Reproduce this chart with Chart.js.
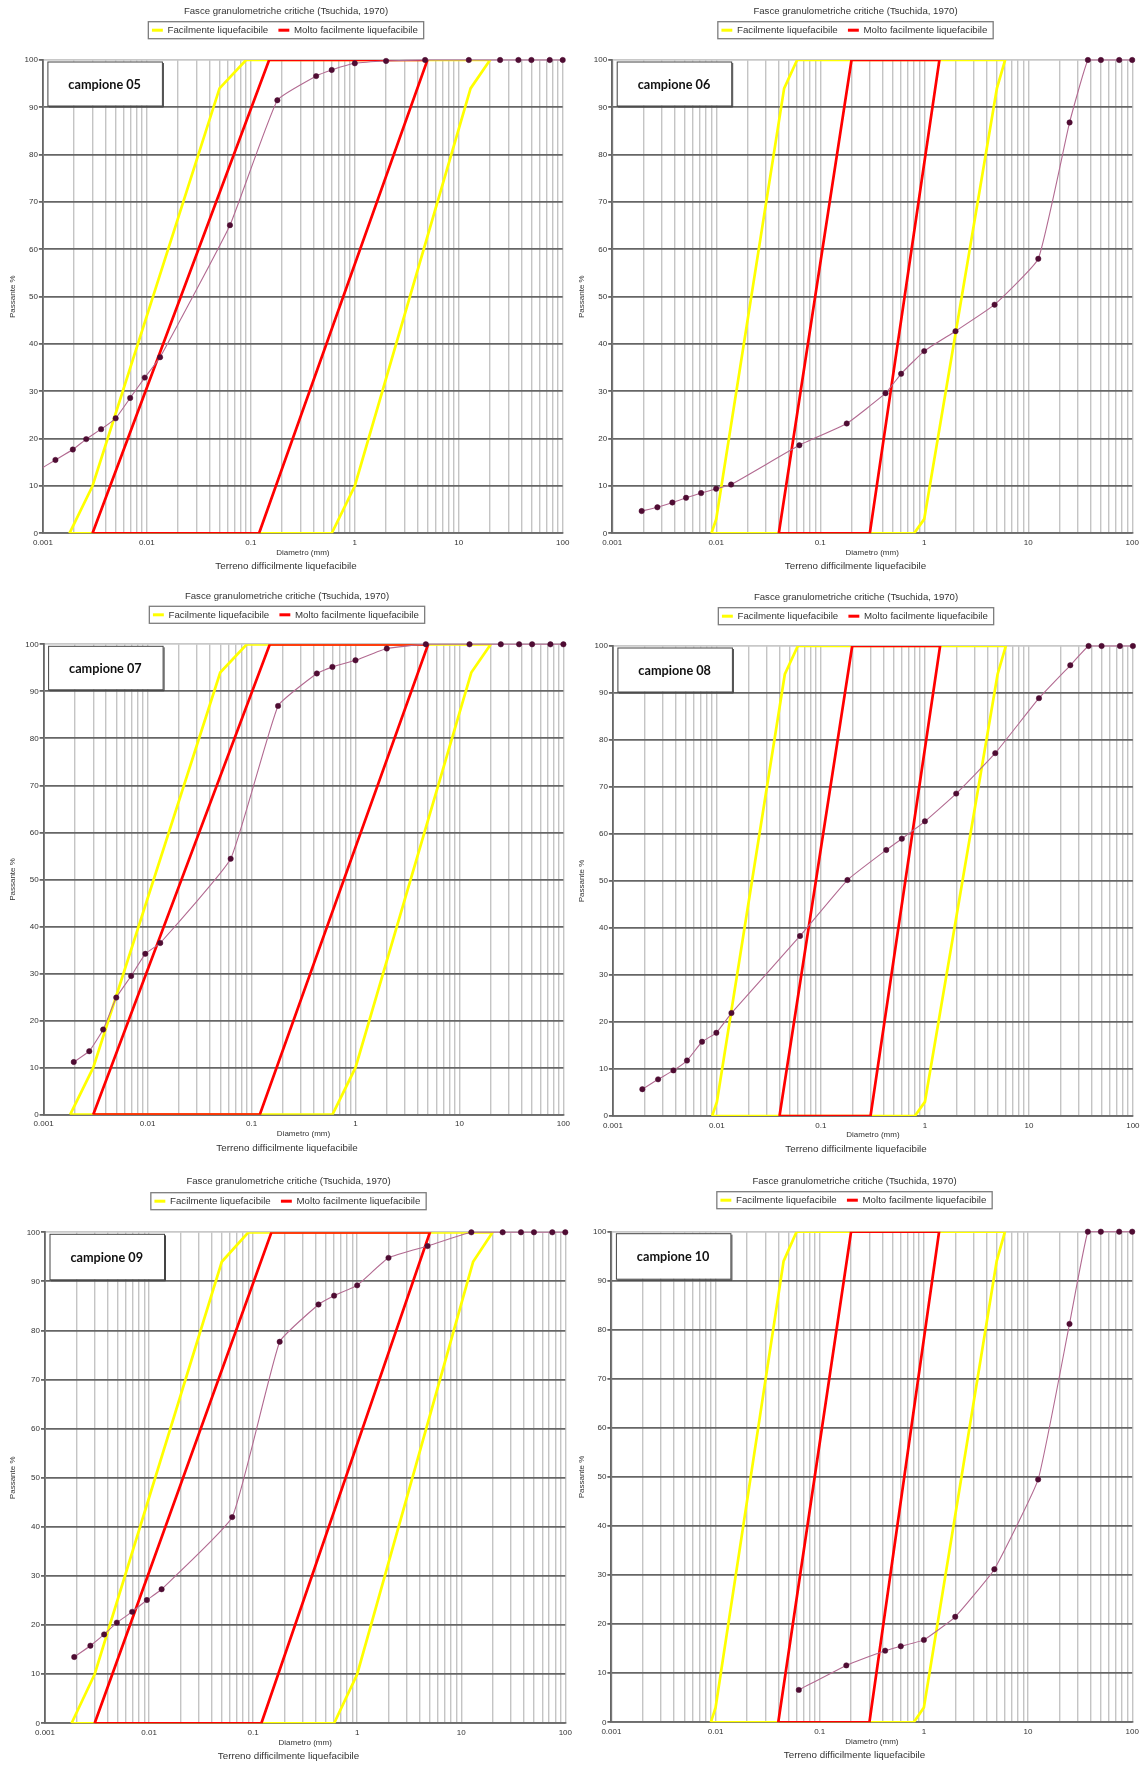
<!DOCTYPE html>
<html>
<head>
<meta charset="utf-8">
<title>Fasce granulometriche critiche</title>
<script src="https://cdn.jsdelivr.net/npm/chart.js@4.4.1/dist/chart.umd.min.js"></script>
<style>
  html, body { margin: 0; padding: 0; background: #fff; }
  body { width: 1145px; height: 1767px; position: relative; overflow: hidden; }
  canvas { position: absolute; }
</style>
</head>
<body>
<canvas id="c05"></canvas>
<canvas id="c06"></canvas>
<canvas id="c07"></canvas>
<canvas id="c08"></canvas>
<canvas id="c09"></canvas>
<canvas id="c10"></canvas>
<script>
const FONT = '"Liberation Sans", Arial, sans-serif';
Chart.defaults.font.family = FONT;
Chart.defaults.color = '#333';

// x axis: grain diameter in mm, labelled decades
const xTickValues = [0.001, 0.01, 0.1, 1, 10, 100];
const xTickLabels = ['0.001', '0.01', '0.1', '1', '10', '100'];
const xMantissas = [1, 2, 3, 4, 5, 6, 7, 8, 9];

const HEADING = 'Fasce granulometriche critiche (Tsuchida, 1970)';
const CAPTION = 'Terreno difficilmente liquefacibile';
const LABEL_EASY = 'Facilmente liquefacibile';
const LABEL_VERY_EASY = 'Molto facilmente liquefacibile';

// Tsuchida bands, graded soils (left column)
const gradedEasyDiam = [0.0018, 0.003, 0.05, 0.09, 20, 13, 1, 0.6, 0.0018];
const gradedEasyPass = [0, 10, 94, 100, 100, 94, 10, 0, 0];
const gradedVeryEasyDiam = [0.003, 0.15, 5, 0.12, 0.003];
const gradedVeryEasyPass = [0, 100, 100, 0, 0];

// Tsuchida bands, uniform soils (right column)
const uniformEasyDiam = [0.009, 0.01, 0.045, 0.06, 6, 5, 1, 0.8, 0.009];
const uniformEasyPass = [0, 3, 94, 100, 100, 94, 3, 0, 0];
const uniformVeryEasyDiam = [0.04, 0.2, 1.4, 0.3, 0.04];
const uniformVeryEasyPass = [0, 100, 100, 0, 0];

// sieve openings (mm), same for every sample
const sieveDiam = [0.063, 0.18, 0.425, 0.6, 1, 2, 4.75, 12.5, 25, 37.5, 50, 75, 100];

// campione 05
const sed05Diam = [0.0009, 0.00132, 0.00194, 0.00261, 0.00363, 0.00501, 0.00691, 0.00955, 0.0134];
const sed05Pass = [13.3, 15.5, 17.7, 19.9, 22.0, 24.3, 28.6, 32.9, 37.2];
const sieve05Pass = [65.1, 91.5, 96.6, 97.9, 99.3, 99.8, 100, 100, 100, 100, 100, 100, 100];

// campione 06
const sed06Diam = [0.00192, 0.00272, 0.00379, 0.00513, 0.00716, 0.00998, 0.0139];
const sed06Pass = [4.7, 5.5, 6.5, 7.5, 8.5, 9.4, 10.3];
const sieve06Pass = [18.6, 23.2, 29.6, 33.7, 38.5, 42.7, 48.3, 58.0, 86.8, 100, 100, 100, 100];

// campione 07
const sed07Diam = [0.00195, 0.00275, 0.00374, 0.0050, 0.00695, 0.00952, 0.01325];
const sed07Pass = [11.2, 13.5, 18.1, 24.9, 29.5, 34.2, 36.5];
const sieve07Pass = [54.4, 86.9, 93.8, 95.2, 96.6, 99.1, 100, 100, 100, 100, 100, 100, 100];

// campione 08
const sed08Diam = [0.00192, 0.00272, 0.00382, 0.00516, 0.0072, 0.00988, 0.0138];
const sed08Pass = [5.7, 7.8, 9.7, 11.8, 15.8, 17.7, 21.9];
const sieve08Pass = [38.3, 50.2, 56.6, 59.0, 62.7, 68.6, 77.2, 88.9, 95.9, 100, 100, 100, 100];

// campione 09
const sed09Diam = [0.00191, 0.00273, 0.0037, 0.0049, 0.00688, 0.00953, 0.0132];
const sed09Pass = [13.5, 15.8, 18.1, 20.5, 22.7, 25.1, 27.3];
const sieve09Pass = [42.0, 77.7, 85.3, 87.1, 89.2, 94.8, 97.2, 100, 100, 100, 100, 100, 100];

// campione 10 (sieves only)
const sed10Diam = [];
const sed10Pass = [];
const sieve10Pass = [6.6, 11.6, 14.6, 15.5, 16.8, 21.5, 31.2, 49.5, 81.2, 100, 100, 100, 100];

const bandSets = {
  graded: { easy: [gradedEasyDiam, gradedEasyPass], veryEasy: [gradedVeryEasyDiam, gradedVeryEasyPass] },
  uniform: { easy: [uniformEasyDiam, uniformEasyPass], veryEasy: [uniformVeryEasyDiam, uniformVeryEasyPass] }
};

// page layout of the six panels
const panels = [
  { id: 'c05', tag: 'campione 05', bands: 'graded', sed: [sed05Diam, sed05Pass], sieve: sieve05Pass,
    frame: { x: 3, y: 0, w: 569, h: 580 }, plot: { l: 42.9, r: 562.7, t: 60, b: 533.3 },
    cx: 286, titleY: 11.3, legendTop: 21.7, tagH: 44 },
  { id: 'c06', tag: 'campione 06', bands: 'uniform', sed: [sed06Diam, sed06Pass], sieve: sieve06Pass,
    frame: { x: 572, y: 0, w: 573, h: 580 }, plot: { l: 612.2, r: 1132.2, t: 60, b: 533.3 },
    cx: 855.5, titleY: 11.5, legendTop: 21.7, tagH: 44 },
  { id: 'c07', tag: 'campione 07', bands: 'graded', sed: [sed07Diam, sed07Pass], sieve: sieve07Pass,
    frame: { x: 3, y: 580, w: 569, h: 585 }, plot: { l: 43.6, r: 563.4, t: 644.3, b: 1114.7 },
    cx: 287, titleY: 596, legendTop: 606.3, tagH: 43.5 },
  { id: 'c08', tag: 'campione 08', bands: 'uniform', sed: [sed08Diam, sed08Pass], sieve: sieve08Pass,
    frame: { x: 572, y: 580, w: 573, h: 585 }, plot: { l: 612.9, r: 1132.9, t: 646, b: 1116 },
    cx: 856, titleY: 597.3, legendTop: 607.7, tagH: 44 },
  { id: 'c09', tag: 'campione 09', bands: 'graded', sed: [sed09Diam, sed09Pass], sieve: sieve09Pass,
    frame: { x: 3, y: 1165, w: 569, h: 602 }, plot: { l: 45, r: 565.3, t: 1232.3, b: 1723.3 },
    cx: 288.5, titleY: 1181.7, legendTop: 1192.7, tagH: 45.5 },
  { id: 'c10', tag: 'campione 10', bands: 'uniform', sed: [sed10Diam, sed10Pass], sieve: sieve10Pass,
    frame: { x: 572, y: 1165, w: 573, h: 602 }, plot: { l: 611.4, r: 1132.2, t: 1231.7, b: 1722.3 },
    cx: 854.5, titleY: 1181, legendTop: 1191.7, tagH: 45.5 }
];

const X_AXIS_H = 23.8;

const toPoints = (xs, ys) => xs.map((x, i) => ({ x, y: ys[i] }));

// every minor decade line of the log axis
const xGridValues = [];
xTickValues.forEach((v, i) => {
  if (i === xTickValues.length - 1) { xGridValues.push(v); return; }
  xMantissas.forEach(m => xGridValues.push(+(v * m).toPrecision(6)));
});

// title, boxed legend, sample tag and bottom caption around the plot
const panelDecor = {
  id: 'panelDecor',
  afterDraw(chart, args, opts) {
    const { ctx, chartArea: a } = chart;
    const ox = opts.frame.x, oy = opts.frame.y;
    const cx = opts.cx - ox;
    ctx.save();
    ctx.textBaseline = 'middle';
    ctx.textAlign = 'center';
    ctx.fillStyle = '#333';
    ctx.font = '9.6px ' + FONT;
    ctx.fillText(HEADING, cx, opts.titleY - oy);

    // legend
    const items = chart.data.datasets.filter(d => d.inLegend).reverse();
    ctx.font = '9.7px ' + FONT;
    const widths = items.map(d => ctx.measureText(d.label).width);
    const padL = 3.6, lineW = 10.9, gap = 4.7, itemGap = 10.2, padR = 5.8, boxH = 17;
    const boxW = padL + widths.reduce((s, w) => s + lineW + gap + w, 0) + itemGap * (items.length - 1) + padR;
    const bx = cx - boxW / 2, by = opts.legendTop - oy;
    ctx.fillStyle = '#fff';
    ctx.fillRect(bx, by, boxW, boxH);
    ctx.strokeStyle = '#7d7d7d';
    ctx.lineWidth = 1.3;
    ctx.strokeRect(bx, by, boxW, boxH);
    let x = bx + padL;
    const my = by + boxH / 2;
    items.forEach((d, i) => {
      ctx.strokeStyle = d.borderColor;
      ctx.lineWidth = 3;
      ctx.beginPath();
      ctx.moveTo(x, my);
      ctx.lineTo(x + lineW, my);
      ctx.stroke();
      x += lineW + gap;
      ctx.fillStyle = '#333';
      ctx.textAlign = 'left';
      ctx.fillText(d.label, x, my + 0.5);
      x += widths[i] + itemGap;
    });

    // sample tag in the top-left corner
    const tx = a.left + 4.5, ty = a.top + 1.5, tw = 114.5, th = opts.tagH;
    ctx.fillStyle = '#fff';
    ctx.fillRect(tx, ty, tw, th);
    ctx.strokeStyle = '#444';
    ctx.lineWidth = 1;
    ctx.strokeRect(tx + 0.5, ty + 0.5, tw, th);
    ctx.beginPath();
    ctx.moveTo(tx + 1.5, ty + th + 1.5);
    ctx.lineTo(tx + tw + 1.5, ty + th + 1.5);
    ctx.lineTo(tx + tw + 1.5, ty + 1.5);
    ctx.stroke();
    ctx.fillStyle = '#111';
    ctx.textAlign = 'center';
    ctx.font = 'bold 12.7px Lato, "Open Sans", sans-serif';
    ctx.fillText(opts.tag, tx + tw / 2, ty + th / 2 + 1);

    // caption under the x axis
    ctx.fillStyle = '#333';
    ctx.font = '9.8px ' + FONT;
    ctx.fillText(CAPTION, cx, a.bottom + 33.4);
    ctx.restore();
  }
};

function buildPanel(p) {
  const canvas = document.getElementById(p.id);
  canvas.width = p.frame.w;
  canvas.height = p.frame.h;
  canvas.style.left = p.frame.x + 'px';
  canvas.style.top = p.frame.y + 'px';
  canvas.style.width = p.frame.w + 'px';
  canvas.style.height = p.frame.h + 'px';

  const band = bandSets[p.bands];
  const yAxisW = p.plot.l - p.frame.x;
  const sample = toPoints(p.sed[0].concat(sieveDiam), p.sed[1].concat(p.sieve));

  return new Chart(canvas, {
    type: 'line',
    data: {
      datasets: [
        {
          label: p.tag,
          data: sample,
          borderColor: '#b26a91',
          borderWidth: 1.1,
          tension: 0.12,
          pointRadius: 2.7,
          pointBackgroundColor: '#4f0c33',
          pointBorderColor: '#4f0c33',
          pointBorderWidth: 0.5,
          clip: { left: 0, top: 4, right: 4, bottom: 4 }
        },
        {
          label: LABEL_VERY_EASY,
          inLegend: true,
          data: toPoints(band.veryEasy[0], band.veryEasy[1]),
          borderColor: '#ff0000',
          borderWidth: 2.7,
          pointRadius: 0,
          tension: 0
        },
        {
          label: LABEL_EASY,
          inLegend: true,
          data: toPoints(band.easy[0], band.easy[1]),
          borderColor: '#ffff00',
          borderWidth: 2.7,
          pointRadius: 0,
          tension: 0
        }
      ]
    },
    options: {
      responsive: false,
      animation: false,
      devicePixelRatio: 1,
      events: [],
      layout: {
        padding: {
          left: 0,
          right: p.frame.x + p.frame.w - p.plot.r,
          top: p.plot.t - p.frame.y,
          bottom: p.frame.y + p.frame.h - p.plot.b - X_AXIS_H
        }
      },
      scales: {
        x: {
          type: 'logarithmic',
          min: xTickValues[0],
          max: xTickValues[xTickValues.length - 1],
          afterBuildTicks: s => { s.ticks = xGridValues.map(v => ({ value: v })); },
          afterFit: s => { s.height = X_AXIS_H; s.paddingLeft = 0; s.paddingRight = 0; },
          ticks: {
            autoSkip: false,
            maxRotation: 0,
            padding: 4.5,
            font: { size: 8 },
            color: '#333',
            callback: v => {
              const k = xTickValues.indexOf(v);
              return k >= 0 ? xTickLabels[k] : '';
            }
          },
          grid: { color: '#c4c4c4', lineWidth: 1.4, drawTicks: false },
          border: { color: '#6d6d6d', width: 1.8 },
          title: { display: true, text: 'Diametro (mm)', font: { size: 8 }, color: '#333', padding: 0 }
        },
        y: {
          min: 0,
          max: 100,
          afterFit: s => { s.width = yAxisW; },
          ticks: { stepSize: 10, padding: 1, font: { size: 8 }, color: '#333' },
          grid: {
            color: c => (c.tick && c.tick.value === 100 ? '#c8c8c8' : '#666'),
            lineWidth: 1.8,
            tickLength: 4,
            tickColor: '#666'
          },
          border: { color: '#666', width: 1.8 },
          title: { display: true, text: 'Passante %', font: { size: 8 }, color: '#333', padding: { top: 5, bottom: 0 } }
        }
      },
      plugins: {
        legend: { display: false },
        tooltip: { enabled: false },
        panelDecor: { frame: p.frame, cx: p.cx, titleY: p.titleY, legendTop: p.legendTop, tag: p.tag, tagH: p.tagH }
      }
    },
    plugins: [panelDecor]
  });
}

panels.forEach(buildPanel);
</script>
</body>
</html>
